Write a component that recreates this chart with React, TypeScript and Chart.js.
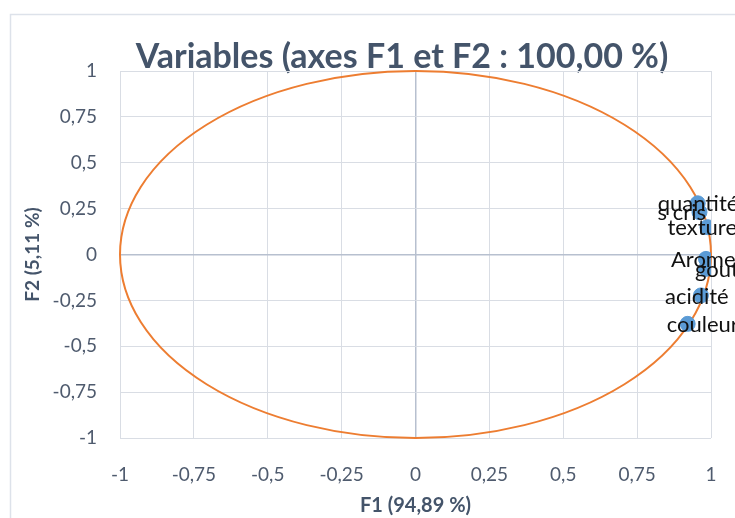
import React, { useEffect, useRef } from "react";
import { Chart, registerables } from "chart.js";

Chart.register(...registerables);

const variableNames = ["quantité", "s cris", "texture", "Arome", "gout", "acidité", "couleur"];
const f1Values = [0.955, 0.961, 0.988, 0.983, 0.983, 0.966, 0.921];
const f2Values = [0.279, 0.231, 0.149, -0.024, -0.078, -0.223, -0.378];
const tickValues = [-1, -0.75, -0.5, -0.25, 0, 0.25, 0.5, 0.75, 1];
const chartTitle = "Variables (axes F1 et F2 : 100,00 %)";
const xTitle = "F1 (94,89 %)";
const yTitle = "F2 (5,11 %)";
// horizontal start of each label relative to its point (px)
const labelStartOffset = [-40, -42, -40, -35, -11, -36, -21];

const FONT = "Lato, 'Open Sans', sans-serif";
const TICK_COLOR = "#4f5b6e";

const fmt = (v: number) => String(v).replace(".", ",");

export default function App() {
  const ref = useRef<HTMLCanvasElement | null>(null);

  useEffect(() => {
    document.body.style.margin = "0";
    const canvas = ref.current;
    if (!canvas) return;

    const decor = {
      id: "decor",
      beforeDraw(chart: any) {
        const ctx = chart.ctx;
        ctx.save();
        ctx.fillStyle = "#ffffff";
        ctx.fillRect(0, 0, chart.width, chart.height);
        ctx.strokeStyle = "#dde2ea";
        ctx.lineWidth = 1.5;
        ctx.beginPath();
        ctx.moveTo(10.5, chart.height);
        ctx.lineTo(10.5, 14.5);
        ctx.lineTo(chart.width, 14.5);
        ctx.stroke();
        ctx.fillStyle = "#44546a";
        ctx.font = `bold 34px ${FONT}`;
        ctx.textAlign = "center";
        ctx.textBaseline = "middle";
        ctx.fillText(chartTitle, 402, 57);
        ctx.restore();
      },
      beforeDatasetsDraw(chart: any) {
        const { ctx, scales } = chart;
        const xs = scales.x, ys = scales.y;
        const cx = xs.getPixelForValue(0);
        const cy = ys.getPixelForValue(0);
        const rx = xs.getPixelForValue(1) - cx;
        const ry = cy - ys.getPixelForValue(1);
        ctx.save();
        ctx.strokeStyle = "#ED7D31";
        ctx.lineWidth = 2;
        ctx.beginPath();
        ctx.ellipse(cx, cy, rx, ry, 0, 0, Math.PI * 2);
        ctx.stroke();
        ctx.restore();
      },
      afterDatasetsDraw(chart: any) {
        const { ctx } = chart;
        const meta = chart.getDatasetMeta(0);
        ctx.save();
        ctx.fillStyle = "#111111";
        ctx.font = `22px ${FONT}`;
        ctx.textAlign = "left";
        ctx.textBaseline = "middle";
        meta.data.forEach((pt: any, i: number) => {
          ctx.fillText(variableNames[i], pt.x + labelStartOffset[i], pt.y + 1);
        });
        ctx.restore();
      },
    };

    const gridColor = (c: any) => (c.tick && c.tick.value === 0 ? "#b7c0cf" : "#d9dde4");
    const gridWidth = (c: any) => (c.tick && c.tick.value === 0 ? 1.5 : 1);

    const chart = new Chart(canvas, {
      type: "scatter",
      data: {
        datasets: [
          {
            label: "Variables",
            data: f1Values.map((x, i) => ({ x, y: f2Values[i] })),
            backgroundColor: "#5B9BD5",
            borderColor: "#5B9BD5",
            pointRadius: 7.5,
            pointHoverRadius: 7.5,
          },
        ],
      },
      options: {
        animation: false,
        responsive: false,
        layout: { padding: { left: 0, top: 71, right: 24, bottom: 0 } },
        plugins: {
          legend: { display: false },
          tooltip: { enabled: false },
          title: { display: false },
        },
        scales: {
          x: {
            type: "linear",
            min: -1,
            max: 1,
            afterBuildTicks: (s: any) => {
              s.ticks = tickValues.map((v) => ({ value: v }));
            },
            afterFit: (s: any) => {
              s.height = 80;
              s.paddingLeft = 0;
              s.paddingRight = 0;
            },
            grid: { color: gridColor, lineWidth: gridWidth, drawTicks: false },
            border: { display: false },
            ticks: {
              padding: 25,
              color: TICK_COLOR,
              font: { family: FONT, size: 19 },
              callback: (v: any) => fmt(v),
            },
            title: {
              display: true,
              text: xTitle,
              color: "#44546a",
              font: { family: FONT, size: 20, weight: "bold" },
              padding: { top: 0, bottom: 0 },
            },
          },
          y: {
            type: "linear",
            min: -1,
            max: 1,
            afterBuildTicks: (s: any) => {
              s.ticks = tickValues.map((v) => ({ value: v }));
            },
            afterFit: (s: any) => {
              s.width = 120;
              s.paddingTop = 0;
              s.paddingBottom = 0;
            },
            grid: { color: gridColor, lineWidth: gridWidth, drawTicks: false },
            border: { display: false },
            ticks: {
              padding: 23,
              color: TICK_COLOR,
              font: { family: FONT, size: 19 },
              callback: (v: any) => fmt(v),
            },
            title: {
              display: true,
              text: yTitle,
              color: "#44546a",
              font: { family: FONT, size: 19, weight: "bold" },
              padding: { top: 21, bottom: 0 },
            },
          },
        },
      },
      plugins: [decor],
    } as any);

    return () => chart.destroy();
  }, []);

  return <canvas ref={ref} width={735} height={518} style={{ display: "block" }} />;
}
